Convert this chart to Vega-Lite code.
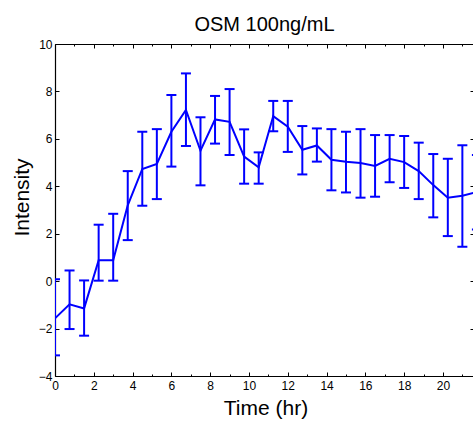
{
  "$schema": "https://vega.github.io/schema/vega-lite/v6.json",
  "width": 419,
  "height": 332,
  "autosize": {"type": "none"},
  "padding": {"left": 55, "top": 44, "right": 0, "bottom": 45},
  "background": "white",
  "title": {"text": "OSM 100ng/mL", "fontSize": 20, "font": "Liberation Sans", "fontWeight": "normal", "color": "#000000", "baseline": "alphabetic", "offset": -13, "frame": "group", "anchor": "middle"},
  "config": {
    "view": {"stroke": null},
    "axis": {"labelFont": "Liberation Sans", "titleFont": "Liberation Sans", "labelFontSize": 12, "labelColor": "#000000", "titleColor": "#000000", "titleFontWeight": "normal", "titleFontSize": 21, "domainColor": "#000000", "tickColor": "#000000", "grid": false, "domainWidth": 1.2, "tickWidth": 1, "labelOverlap": false, "labelFlush": false}
  },
  "data": {"values": [
    {"t": 0, "v": -1.57, "lo": -3.13, "hi": 0.08},
    {"t": 0.75, "v": -0.98, "lo": -2.02, "hi": 0.45},
    {"t": 1.5, "v": -1.15, "lo": -2.3, "hi": 0.03},
    {"t": 2.25, "v": 0.88, "lo": 0.02, "hi": 2.38},
    {"t": 3.0, "v": 0.88, "lo": 0.02, "hi": 2.84},
    {"t": 3.75, "v": 3.2, "lo": 1.73, "hi": 4.64},
    {"t": 4.5, "v": 4.73, "lo": 3.18, "hi": 6.3},
    {"t": 5.25, "v": 4.94, "lo": 3.46, "hi": 6.41},
    {"t": 6.0, "v": 6.3, "lo": 4.83, "hi": 7.85},
    {"t": 6.75, "v": 7.22, "lo": 5.7, "hi": 8.76},
    {"t": 7.5, "v": 5.5, "lo": 4.04, "hi": 6.91},
    {"t": 8.25, "v": 6.82, "lo": 5.8, "hi": 7.81},
    {"t": 9.0, "v": 6.72, "lo": 5.32, "hi": 8.1},
    {"t": 9.75, "v": 5.25, "lo": 4.11, "hi": 6.4},
    {"t": 10.5, "v": 4.8, "lo": 4.11, "hi": 5.43},
    {"t": 11.25, "v": 6.96, "lo": 6.32, "hi": 7.6},
    {"t": 12.0, "v": 6.51, "lo": 5.45, "hi": 7.6},
    {"t": 12.75, "v": 5.54, "lo": 4.5, "hi": 6.54},
    {"t": 13.5, "v": 5.72, "lo": 5.04, "hi": 6.44},
    {"t": 14.25, "v": 5.12, "lo": 3.83, "hi": 6.41},
    {"t": 15.0, "v": 5.03, "lo": 3.74, "hi": 6.3},
    {"t": 15.75, "v": 4.98, "lo": 3.52, "hi": 6.41},
    {"t": 16.5, "v": 4.86, "lo": 3.56, "hi": 6.16},
    {"t": 17.25, "v": 5.16, "lo": 4.17, "hi": 6.16},
    {"t": 18.0, "v": 5.02, "lo": 3.93, "hi": 6.12},
    {"t": 18.75, "v": 4.64, "lo": 3.46, "hi": 5.84},
    {"t": 19.5, "v": 4.05, "lo": 2.69, "hi": 5.36},
    {"t": 20.25, "v": 3.52, "lo": 1.9, "hi": 5.16},
    {"t": 21.0, "v": 3.6, "lo": 1.45, "hi": 5.73},
    {"t": 21.75, "v": 3.76, "lo": 2.18, "hi": 5.32}
  ]},
  "resolve": {"axis": {"x": "independent", "y": "independent"}},
  "layer": [
    {
      "mark": {"type": "line", "color": "#0000ff", "strokeWidth": 2, "clip": true},
      "encoding": {
        "x": {"field": "t", "type": "quantitative", "scale": {"domain": [0, 21.6], "nice": false, "zero": false},
          "axis": {"orient": "bottom", "values": [0,1,2,3,4,5,6,7,8,9,10,11,12,13,14,15,16,17,18,19,20,21],
            "labelExpr": "datum.value % 2 === 0 ? datum.label : ''",
            "tickSize": {"condition": {"test": "datum.value % 2 === 0", "value": -4}, "value": -2},
            "labelPadding": 8, "title": "Time (hr)", "titleX": 210.5, "titleY": 38, "titleBaseline": "alphabetic", "titleAlign": "center", "titleAngle": 0}},
        "y": {"field": "v", "type": "quantitative", "scale": {"domain": [-4, 10], "nice": false, "zero": false},
          "axis": {"orient": "left", "values": [-4,-2,0,2,4,6,8,10], "tickSize": -4, "labelPadding": 7,
            "title": "Intensity", "titleX": -27, "titleY": 153, "titleAngle": -90, "titleBaseline": "alphabetic", "titleAlign": "center"}}
      }
    },
    {
      "mark": {"type": "rule", "color": "#0000ff", "strokeWidth": 2, "clip": true},
      "encoding": {
        "x": {"field": "t", "type": "quantitative", "scale": {"domain": [0, 21.6], "nice": false, "zero": false},
          "axis": {"orient": "top", "values": [0,1,2,3,4,5,6,7,8,9,10,11,12,13,14,15,16,17,18,19,20,21], "labels": false,
            "tickSize": {"condition": {"test": "datum.value % 2 === 0", "value": -4}, "value": -2}, "title": null}},
        "y": {"field": "lo", "type": "quantitative", "scale": {"domain": [-4, 10], "nice": false, "zero": false},
          "axis": {"orient": "right", "values": [-4,-2,0,2,4,6,8,10], "labels": false, "tickSize": -4, "title": null}},
        "y2": {"field": "hi"}
      }
    },
    {
      "mark": {"type": "tick", "orient": "horizontal", "color": "#0000ff", "size": 10, "thickness": 2, "opacity": 1, "clip": true},
      "encoding": {
        "x": {"field": "t", "type": "quantitative", "scale": {"domain": [0, 21.6], "nice": false, "zero": false}, "axis": null},
        "y": {"field": "lo", "type": "quantitative", "scale": {"domain": [-4, 10], "nice": false, "zero": false}, "axis": null}
      }
    },
    {
      "mark": {"type": "tick", "orient": "horizontal", "color": "#0000ff", "size": 10, "thickness": 2, "opacity": 1, "clip": true},
      "encoding": {
        "x": {"field": "t", "type": "quantitative", "scale": {"domain": [0, 21.6], "nice": false, "zero": false}, "axis": null},
        "y": {"field": "hi", "type": "quantitative", "scale": {"domain": [-4, 10], "nice": false, "zero": false}, "axis": null}
      }
    }
  ]
}
